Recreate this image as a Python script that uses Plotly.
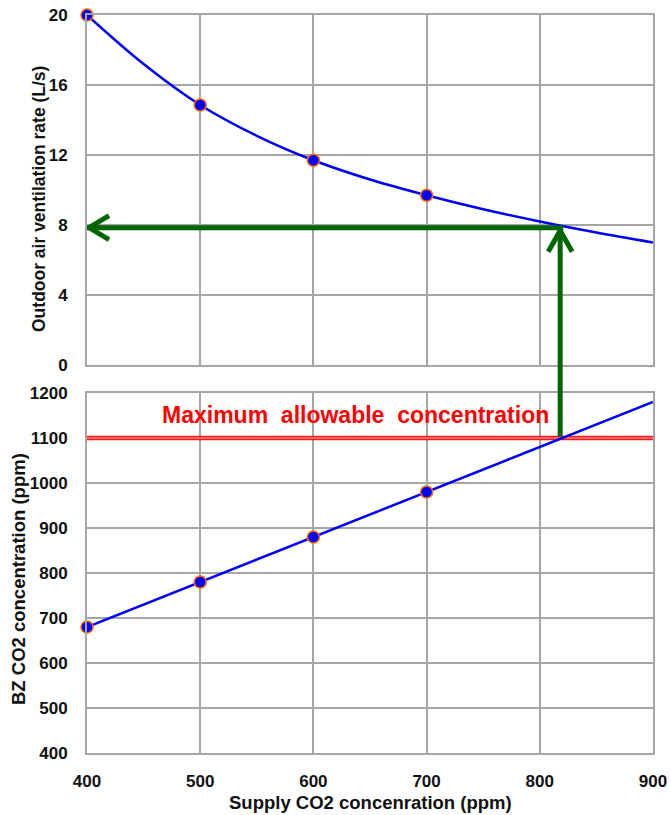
import plotly.graph_objects as go

# ---------------- data ----------------
supply_pts = [400, 500, 600, 700]
vent_pts = [20.0, 14.86, 11.7, 9.7]

curve_x = [400, 450, 500, 550, 600, 650, 700, 750, 800, 850, 900]
curve_vent = [20.0, 17.2, 14.86, 13.1, 11.7, 10.6, 9.7, 8.9, 8.2, 7.57, 7.0]

bz_pts = [680, 780, 880, 980]
line_x = [400, 900]
line_bz = [680, 1180]

limit_bz = 1100
design_supply = 818
design_vent = 7.85

x_ticks = [400, 500, 600, 700, 800, 900]
y1_ticks = [0, 4, 8, 12, 16, 20]
y2_ticks = [400, 500, 600, 700, 800, 900, 1000, 1100, 1200]

limit_label = "Maximum\u00a0 allowable\u00a0 concentration"
x_title = "Supply CO2 concenration (ppm)"
y1_title = "Outdoor air ventilation rate (L/s)"
y2_title = "BZ CO2 concentration (ppm)"

# ---------------- styling ----------------
W, H = 671, 815
M = dict(l=87, r=18, t=15, b=62)
dom1 = [0.5257, 1.0]
dom2 = [0.0, 0.4878]
r1 = [0, 20]
r2 = [400, 1200]
FONT = "Arial, 'Liberation Sans', sans-serif"
GRID = "#a6a6a6"
BLUE = "#0000ff"
ORANGE = "#ff6a00"
GREEN = "#006600"
RED = "#ff1a1a"
TXT = "#111111"

fig = go.Figure()

# top: ventilation curve
fig.add_trace(go.Scatter(x=curve_x, y=curve_vent, mode="lines", line=dict(color=BLUE, width=2.5, shape="spline"),
                         xaxis="x", yaxis="y", hoverinfo="skip"))
fig.add_trace(go.Scatter(x=supply_pts, y=vent_pts, mode="markers",
                         marker=dict(color=BLUE, size=12, line=dict(color=ORANGE, width=1.5)),
                         xaxis="x", yaxis="y", cliponaxis=False))

# bottom: limit line (double red line)
fig.add_trace(go.Scatter(x=line_x, y=[limit_bz, limit_bz], mode="lines", line=dict(color=RED, width=4.5),
                         xaxis="x2", yaxis="y2", hoverinfo="skip"))
fig.add_trace(go.Scatter(x=line_x, y=[limit_bz, limit_bz], mode="lines", line=dict(color="#ffb3b3", width=1.2),
                         xaxis="x2", yaxis="y2", hoverinfo="skip"))
# BZ line
fig.add_trace(go.Scatter(x=line_x, y=line_bz, mode="lines", line=dict(color=BLUE, width=2.5),
                         xaxis="x2", yaxis="y2", hoverinfo="skip"))
fig.add_trace(go.Scatter(x=supply_pts, y=bz_pts, mode="markers",
                         marker=dict(color=BLUE, size=12, line=dict(color=ORANGE, width=1.5)),
                         xaxis="x2", yaxis="y2", cliponaxis=False))


def y2_to_y1(v):
    p = dom2[0] + (v - r2[0]) / (r2[1] - r2[0]) * (dom2[1] - dom2[0])
    return r1[0] + (p - dom1[0]) / (dom1[1] - dom1[0]) * (r1[1] - r1[0])


annotations = [
    # green arrow shafts
    dict(x=design_supply, y=design_vent, xref="x", yref="y", axref="x", ayref="y",
         ax=design_supply, ay=y2_to_y1(limit_bz), showarrow=True, arrowhead=0, arrowwidth=5,
         arrowcolor=GREEN, text="", standoff=0),
    dict(x=x_ticks[0], y=design_vent, xref="x", yref="y", axref="x", ayref="y",
         ax=design_supply + 4, ay=design_vent, showarrow=True, arrowhead=0, arrowwidth=5,
         arrowcolor=GREEN, text="", standoff=0),
    # limit label
    dict(x=637, y=1152, xref="x2", yref="y2", text=limit_label, showarrow=False,
         xanchor="center", yanchor="middle",
         font=dict(family=FONT, size=23, color="#ff0000", weight="bold")),
    # axis titles
    dict(x=0, y=(753 - 199) / 738, xref="paper", yref="paper", xanchor="center", yanchor="middle",
         xshift=-48, text=y1_title, textangle=-90, showarrow=False,
         font=dict(family=FONT, size=17.5, color=TXT, weight="bold")),
    dict(x=0, y=(753 - 579) / 738, xref="paper", yref="paper", xanchor="center", yanchor="middle",
         xshift=-69, text=y2_title, textangle=-90, showarrow=False,
         font=dict(family=FONT, size=18.5, color=TXT, weight="bold")),
    dict(x=0.5, y=0, xref="paper", yref="paper", xanchor="center", yanchor="middle",
         yshift=-49, text=x_title, showarrow=False,
         font=dict(family=FONT, size=18.5, color=TXT, weight="bold")),
]

shapes = [
    # arrow heads (chevrons)
    dict(type="path", xref="x", yref="y", xsizemode="pixel", ysizemode="pixel",
         xanchor=design_supply, yanchor=design_vent, path="M-12,-24 L0,-3 L12,-24",
         line=dict(color=GREEN, width=5)),
    dict(type="path", xref="x", yref="y", xsizemode="pixel", ysizemode="pixel",
         xanchor=x_ticks[0], yanchor=design_vent, path="M22,12 L2,0 L22,-12",
         line=dict(color=GREEN, width=5)),
]

axis_common = dict(showgrid=True, gridcolor=GRID, gridwidth=1.5, showline=True, linecolor=GRID,
                   linewidth=2, mirror=True, zeroline=False, ticks="", automargin=False,
                   tickfont=dict(family=FONT, size=17, color=TXT, weight="bold"))

fig.update_layout(
    width=W, height=H, margin=dict(M, autoexpand=False), showlegend=False,
    paper_bgcolor="white", plot_bgcolor="white",
    xaxis=dict(axis_common, domain=[0, 1], range=[400, 900], tickvals=x_ticks, anchor="y",
               matches="x2", showticklabels=False),
    yaxis=dict(axis_common, domain=dom1, range=r1, tickvals=y1_ticks, anchor="x",
               ticklabelstandoff=14),
    xaxis2=dict(axis_common, domain=[0, 1], range=[400, 900], tickvals=x_ticks, anchor="y2",
                ticklabelstandoff=12),
    yaxis2=dict(axis_common, domain=dom2, range=r2, tickvals=y2_ticks, anchor="x2",
                ticklabelstandoff=14),
    annotations=annotations, shapes=shapes,
)

fig.write_html("out.html", config={"displayModeBar": False},
               post_script="document.body.style.margin='0px';document.body.style.overflow='hidden';")
